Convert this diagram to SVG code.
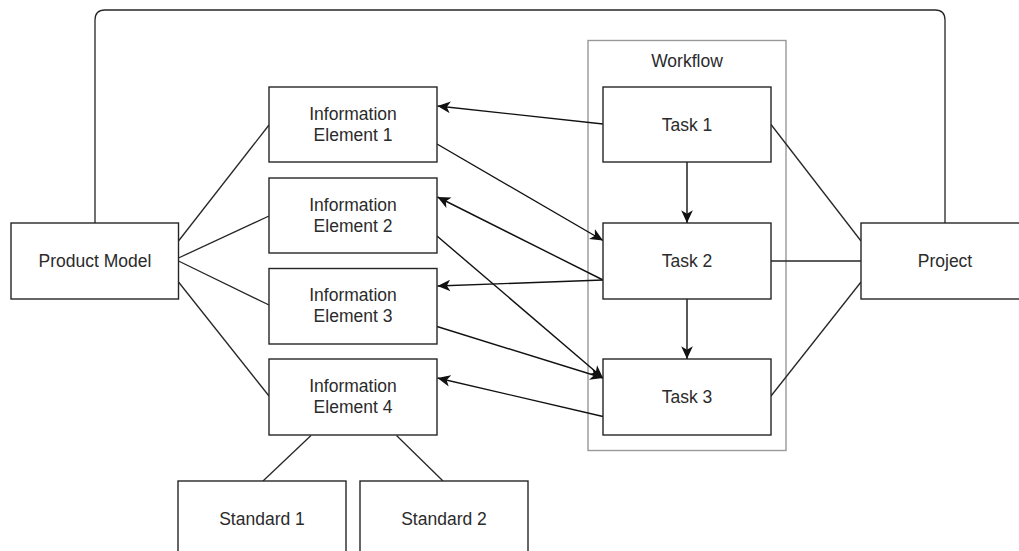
<svg xmlns="http://www.w3.org/2000/svg" width="1019" height="551" viewBox="0 0 1019 551">
  <defs>
    <style>
      .box { fill: #ffffff; stroke: #262626; stroke-width: 1.4; }
      .container { fill: none; stroke: #999999; stroke-width: 1.4; }
      .lbl { font-family: "Liberation Sans", Arial, sans-serif; font-size: 17.5px; fill: #2b2b2b; text-anchor: middle; }
      .link { fill: none; stroke: #262626; stroke-width: 1.3; }
      .flow { fill: none; stroke: #111111; stroke-width: 1.4; marker-end: url(#arrow); }
    </style>
    <marker id="arrow" markerUnits="userSpaceOnUse" markerWidth="14" markerHeight="12" viewBox="0 0 12 10" refX="11" refY="5" orient="auto">
      <path d="M0,0 L11,5 L0,10 L3,5 Z" fill="#111111"/>
    </marker>
  </defs>

  <rect width="1019" height="551" fill="#ffffff"/>

  <!-- Workflow container -->
  <g id="workflow">
    <rect class="container" x="588" y="40.5" width="198" height="410"/>
    <text class="lbl" x="687" y="67">Workflow</text>
  </g>

  <!-- Connectors -->
  <g id="connectors">
    <!-- Product Model to Project across the top -->
    <path class="link" d="M95,223 V20 Q95,10 105,10 H935 Q945,10 945,20 V223"/>
    <!-- Product Model to information elements -->
    <line class="link" x1="178.5" y1="241" x2="269" y2="125"/>
    <line class="link" x1="178.5" y1="258" x2="269" y2="216"/>
    <line class="link" x1="178.5" y1="261" x2="269" y2="305"/>
    <line class="link" x1="178.5" y1="282" x2="269" y2="396"/>
    <!-- Element 4 to standards -->
    <line class="link" x1="311" y1="435.5" x2="263" y2="481"/>
    <line class="link" x1="396.5" y1="435.5" x2="443" y2="481"/>
    <!-- Tasks to Project -->
    <line class="link" x1="771" y1="124.5" x2="861" y2="241"/>
    <line class="link" x1="771" y1="261" x2="861" y2="261"/>
    <line class="link" x1="771" y1="396" x2="861" y2="282"/>
    <!-- Task sequence -->
    <line class="flow" x1="687" y1="162" x2="687" y2="223"/>
    <line class="flow" x1="687" y1="299" x2="687" y2="359"/>
    <!-- Tasks and information elements -->
    <line class="flow" x1="603" y1="124" x2="437.5" y2="106"/>
    <line class="flow" x1="437" y1="144" x2="603" y2="240.5"/>
    <line class="flow" x1="603" y1="280" x2="437.5" y2="197"/>
    <line class="flow" x1="603" y1="280" x2="437.5" y2="286"/>
    <line class="flow" x1="437" y1="236" x2="603" y2="378"/>
    <line class="flow" x1="437" y1="326.5" x2="603" y2="378"/>
    <line class="flow" x1="603" y1="416.5" x2="437.5" y2="378"/>
  </g>

  <!-- Nodes -->
  <g id="product-model">
    <rect class="box" x="11" y="223" width="167.5" height="76"/>
    <text class="lbl" x="95" y="267">Product Model</text>
  </g>

  <g id="info-element-1">
    <rect class="box" x="269" y="87" width="168" height="75"/>
    <text class="lbl" x="353" y="119.5">Information</text>
    <text class="lbl" x="353" y="140.5">Element 1</text>
  </g>

  <g id="info-element-2">
    <rect class="box" x="269" y="178" width="168" height="75"/>
    <text class="lbl" x="353" y="210.5">Information</text>
    <text class="lbl" x="353" y="231.5">Element 2</text>
  </g>

  <g id="info-element-3">
    <rect class="box" x="269" y="268.5" width="168" height="75.5"/>
    <text class="lbl" x="353" y="301">Information</text>
    <text class="lbl" x="353" y="322">Element 3</text>
  </g>

  <g id="info-element-4">
    <rect class="box" x="269" y="359" width="168" height="76"/>
    <text class="lbl" x="353" y="391.5">Information</text>
    <text class="lbl" x="353" y="412.5">Element 4</text>
  </g>

  <g id="standard-1">
    <rect class="box" x="178" y="481" width="168" height="76"/>
    <text class="lbl" x="262" y="524.5">Standard 1</text>
  </g>

  <g id="standard-2">
    <rect class="box" x="360" y="481" width="168" height="76"/>
    <text class="lbl" x="444" y="524.5">Standard 2</text>
  </g>

  <g id="task-1">
    <rect class="box" x="603" y="87" width="168" height="75"/>
    <text class="lbl" x="687" y="131">Task 1</text>
  </g>

  <g id="task-2">
    <rect class="box" x="603" y="223" width="168" height="76"/>
    <text class="lbl" x="687" y="267">Task 2</text>
  </g>

  <g id="task-3">
    <rect class="box" x="603" y="359" width="168" height="76"/>
    <text class="lbl" x="687" y="403">Task 3</text>
  </g>

  <g id="project">
    <rect class="box" x="861" y="223" width="168" height="76"/>
    <text class="lbl" x="945" y="267">Project</text>
  </g>
</svg>
